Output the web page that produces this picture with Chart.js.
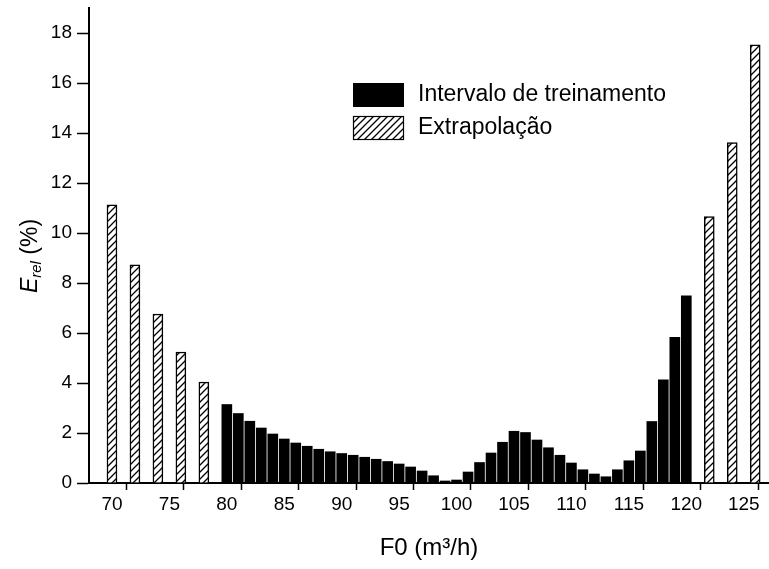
<!DOCTYPE html>
<html>
<head>
<meta charset="utf-8">
<script src="https://cdn.jsdelivr.net/npm/chart.js@4"></script>
<style>
  html, body { margin: 0; padding: 0; background: #fff; }
</style>
</head>
<body>
<canvas id="errChart" width="769" height="569"></canvas>
<script>
// relative error per flow rate (F0, m3/h)
const trainF0 = [80, 81, 82, 83, 84, 85, 86, 87, 88, 89, 90, 91, 92, 93, 94, 95, 96, 97, 98, 99,
  100, 101, 102, 103, 104, 105, 106, 107, 108, 109, 110, 111, 112, 113, 114, 115, 116, 117, 118, 119, 120];
const trainErr = [3.14, 2.78, 2.47, 2.2, 1.96, 1.76, 1.6, 1.47, 1.35, 1.25, 1.18, 1.11, 1.03, 0.95, 0.86, 0.76, 0.64, 0.48, 0.29, 0.08,
  0.12, 0.44, 0.82, 1.2, 1.63, 2.07, 2.02, 1.72, 1.41, 1.11, 0.8, 0.53, 0.36, 0.25, 0.53, 0.89, 1.28, 2.46, 4.13, 5.83, 7.49];

const extraF0 = [70, 72, 74, 76, 78, 122, 124, 126];
const extraErr = [11.13, 8.73, 6.76, 5.24, 4.04, 10.66, 13.62, 17.53];

const xTickLabels = [70, 75, 80, 85, 90, 95, 100, 105, 110, 115, 120, 125];
const yTickLabels = [0, 2, 4, 6, 8, 10, 12, 14, 16, 18];

const seriesNames = ['Intervalo de treinamento', 'Extrapolação'];

const FONT = '"Liberation Sans", Arial, sans-serif';
Chart.defaults.font.family = FONT;
Chart.defaults.color = '#000';

// diagonal hatch fill
function makeHatch() {
  const s = 7;
  const c = document.createElement('canvas');
  c.width = s; c.height = s;
  const g = c.getContext('2d');
  g.fillStyle = '#fff';
  g.fillRect(0, 0, s, s);
  g.strokeStyle = '#000';
  g.lineWidth = 1.3;
  g.beginPath();
  g.moveTo(-1, s + 1); g.lineTo(s + 1, -1);
  g.moveTo(-1, 1); g.lineTo(1, -1);
  g.moveTo(s - 1, s + 1); g.lineTo(s + 1, s - 1);
  g.stroke();
  return g.createPattern(c, 'repeat');
}
const hatch = makeHatch();

// x ticks: labelled ones plus the unlabelled marks half way between
const xTickValues = [];
xTickLabels.forEach((v, i) => {
  xTickValues.push(v);
  if (i < xTickLabels.length - 1) xTickValues.push((v + xTickLabels[i + 1]) / 2);
});

const isLabelled = (c, list) => !!c.tick && list.includes(c.tick.value);

const legendPlugin = {
  id: 'boxLegend',
  afterDraw(chart) {
    const ctx = chart.ctx;
    const x = 353, w = 51, h = 24;
    const rows = [83, 116];
    ctx.save();
    ctx.fillStyle = '#000';
    ctx.fillRect(x, rows[0], w, h);
    ctx.fillStyle = hatch;
    ctx.fillRect(x, rows[1], w, h);
    ctx.strokeStyle = '#000';
    ctx.lineWidth = 1.2;
    ctx.strokeRect(x + 0.5, rows[1] + 0.5, w - 1, h - 1);
    ctx.fillStyle = '#000';
    ctx.font = '23px ' + FONT;
    ctx.textBaseline = 'middle';
    ctx.fillText(seriesNames[0], x + 65, rows[0] + h / 2);
    ctx.fillText(seriesNames[1], x + 65, rows[1] + h / 2);
    ctx.restore();
  }
};

// rotated y title with italic subscript: E_rel (%)
const yTitlePlugin = {
  id: 'yTitle',
  afterDraw(chart) {
    const ctx = chart.ctx;
    const big = 'italic 23px ' + FONT;
    const small = 'italic 15px ' + FONT;
    const plain = '23px ' + FONT;
    ctx.save();
    ctx.translate(31, 256);
    ctx.rotate(-Math.PI / 2);
    ctx.fillStyle = '#000';
    ctx.textBaseline = 'middle';
    ctx.font = big; const wE = ctx.measureText('E').width;
    ctx.font = small; const wS = ctx.measureText('rel').width;
    ctx.font = plain; const wP = ctx.measureText(' (%)').width;
    let x = -(wE + wS + wP) / 2;
    ctx.font = big; ctx.fillText('E', x, 0); x += wE;
    ctx.font = small; ctx.fillText('rel', x, 6); x += wS;
    ctx.font = plain; ctx.fillText(' (%)', x, 0);
    ctx.restore();
  }
};

new Chart(document.getElementById('errChart'), {
  type: 'bar',
  data: {
    datasets: [
      {
        label: seriesNames[0],
        data: trainF0.map((f, i) => ({ x: f, y: trainErr[i] })),
        backgroundColor: '#000',
        borderWidth: 0,
        barThickness: 10,
        grouped: false
      },
      {
        label: seriesNames[1],
        data: extraF0.map((f, i) => ({ x: f, y: extraErr[i] })),
        backgroundColor: hatch,
        borderColor: '#000',
        borderWidth: 1.5,
        barThickness: 10,
        grouped: false
      }
    ]
  },
  options: {
    responsive: false,
    animation: false,
    layout: { padding: { top: 8, left: 0, right: 0, bottom: 0 } },
    plugins: {
      legend: { display: false },
      tooltip: { enabled: false }
    },
    scales: {
      x: {
        type: 'linear',
        min: 68,
        max: 127.2,
        offset: false,
        afterFit(scale) {
          scale.height = 86;
          scale.paddingLeft = 0;
          scale.paddingRight = 0;
        },
        afterBuildTicks(axis) { axis.ticks = xTickValues.map(v => ({ value: v })); },
        border: { color: '#000', width: 2 },
        grid: {
          drawOnChartArea: false,
          drawTicks: true,
          tickLength: 7,
          tickWidth: 1.5,
          tickColor: c => isLabelled(c, xTickLabels) ? 'rgba(0,0,0,0)' : '#000'
        },
        ticks: {
          autoSkip: false,
          maxRotation: 0,
          padding: 3,
          font: { size: 19 },
          callback: v => xTickLabels.includes(v) ? String(v) : ''
        },
        title: {
          display: true,
          text: 'F0 (m³/h)',
          font: { size: 24 },
          padding: { top: 0, bottom: 6 }
        }
      },
      y: {
        min: 0,
        max: 19,
        afterFit(scale) {
          scale.width = 89;
          scale.paddingTop = 0;
          scale.paddingBottom = 0;
        },
        border: { color: '#000', width: 2 },
        grid: {
          drawOnChartArea: false,
          drawTicks: true,
          tickLength: 12,
          tickWidth: 1.5,
          tickColor: '#000',
          // unlabelled ticks are drawn shorter
          tickBorderDash: c => isLabelled(c, yTickLabels) || !c.tick ? [] : [7, 5],
          tickBorderDashOffset: c => isLabelled(c, yTickLabels) || !c.tick ? 0 : 7
        },
        ticks: {
          stepSize: 1,
          padding: 5,
          font: { size: 19 },
          callback: v => yTickLabels.includes(v) ? String(v) : ''
        }
      }
    }
  },
  plugins: [legendPlugin, yTitlePlugin]
});
</script>
</body>
</html>
